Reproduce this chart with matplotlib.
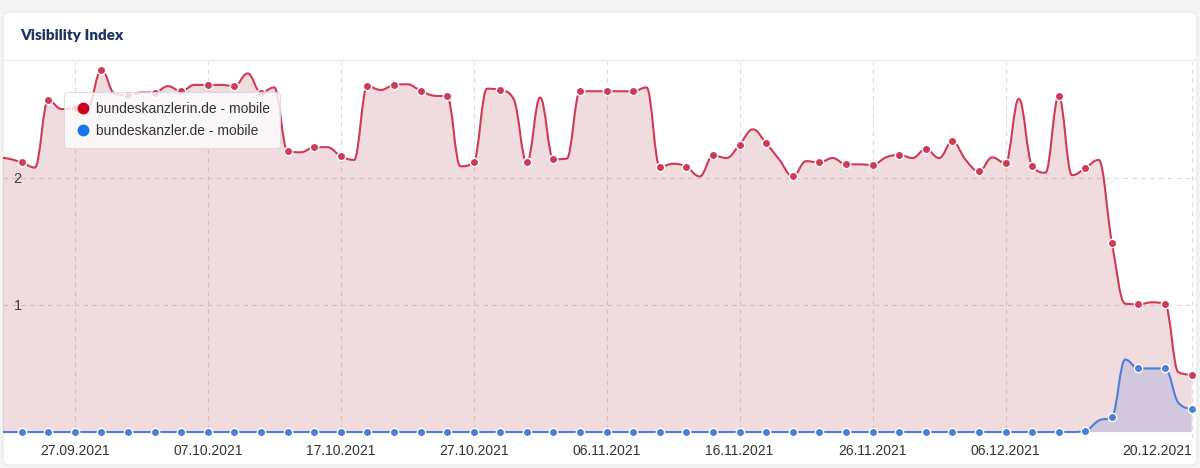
import numpy as np
import pandas as pd
import matplotlib
matplotlib.use("Agg")
from matplotlib import pyplot as plt
import matplotlib.dates as mdates
from matplotlib.path import Path
from matplotlib.patches import PathPatch, FancyBboxPatch
from matplotlib.lines import Line2D

plt.rcParams['font.family'] = ['Liberation Sans', 'DejaVu Sans']

# daily values, 21.09.2021 - 20.12.2021
start_date = "2021-09-21"
end_date = "2021-12-20"

kanzlerin = [
    2.16, 2.15, 2.12, 2.08, 2.61, 2.54, 2.55, 2.56, 2.85, 2.66,
    2.65, 2.67, 2.67, 2.72, 2.68, 2.73, 2.73, 2.73, 2.72, 2.82,
    2.67, 2.71, 2.21, 2.20, 2.24, 2.24, 2.17, 2.14, 2.72, 2.69,
    2.73, 2.735, 2.685, 2.645, 2.64, 2.09, 2.12, 2.70, 2.69, 2.62,
    2.12, 2.63, 2.145, 2.15, 2.68, 2.68, 2.68, 2.68, 2.68, 2.71,
    2.085, 2.11, 2.085, 2.01, 2.175, 2.155, 2.26, 2.38, 2.27, 2.14,
    2.01, 2.13, 2.12, 2.155, 2.105, 2.105, 2.10, 2.16, 2.18, 2.155,
    2.225, 2.155, 2.285, 2.14, 2.05, 2.16, 2.115, 2.62, 2.095, 2.04,
    2.64, 2.02, 2.075, 2.14, 1.49, 1.01, 1.005, 1.02, 1.005, 0.47,
    0.45,
]
kanzler = [0.0] * 82 + [0.01, 0.09, 0.12, 0.57, 0.50, 0.50, 0.50, 0.23, 0.18]

series_names = ["bundeskanzlerin.de - mobile", "bundeskanzler.de - mobile"]
tick_labels = ["27.09.2021", "07.10.2021", "17.10.2021", "27.10.2021", "06.11.2021",
               "16.11.2021", "26.11.2021", "06.12.2021", "20.12.2021"]
y_ticks = [1, 2]

RED = "#cf3b56"
BLUE = "#4d7fd8"


def spline_path(xs, ys, smoothing=1.5):
    # same idea as highcharts "spline" series
    n = len(xs)
    denom = smoothing + 1
    left = [(xs[i], ys[i]) for i in range(n)]
    right = [(xs[i], ys[i]) for i in range(n)]
    for i in range(1, n - 1):
        px, py = xs[i], ys[i]
        lx, ly = xs[i - 1], ys[i - 1]
        nx, ny = xs[i + 1], ys[i + 1]
        lcx = (smoothing * px + lx) / denom
        lcy = (smoothing * py + ly) / denom
        rcx = (smoothing * px + nx) / denom
        rcy = (smoothing * py + ny) / denom
        if rcx != lcx:
            corr = ((rcy - lcy) * (rcx - px)) / (rcx - lcx) + py - rcy
            lcy += corr
            rcy += corr
        if lcy > ly and lcy > py:
            lcy = max(ly, py)
            rcy = 2 * py - lcy
        elif lcy < ly and lcy < py:
            lcy = min(ly, py)
            rcy = 2 * py - lcy
        if rcy > ny and rcy > py:
            rcy = max(ny, py)
            lcy = 2 * py - rcy
        elif rcy < ny and rcy < py:
            rcy = min(ny, py)
            lcy = 2 * py - rcy
        left[i] = (lcx, lcy)
        right[i] = (rcx, rcy)
    verts = [(xs[0], ys[0])]
    codes = [Path.MOVETO]
    for i in range(1, n):
        verts += [right[i - 1], left[i], (xs[i], ys[i])]
        codes += [Path.CURVE4] * 3
    return verts, codes


def draw_series(ax, xs, ys, color, fill_color, fill_alpha, z):
    verts, codes = spline_path(xs, ys)
    line = Path(verts, codes)
    area = Path(verts + [(xs[-1], 0), (xs[0], 0), (xs[0], ys[0])],
                codes + [Path.LINETO, Path.LINETO, Path.CLOSEPOLY])
    ax.add_patch(PathPatch(area, facecolor=fill_color, alpha=fill_alpha, lw=0, zorder=z))
    ax.add_patch(PathPatch(line, facecolor="none", edgecolor=color, lw=1.5, zorder=z + 1))
    # markers every second day
    ax.plot(xs[::2], ys[::2], ls="none", marker="o", ms=6.0, mfc=color,
            mec="white", mew=1.0, zorder=z + 2)


dates = pd.date_range(start_date, end_date, freq="D")
xs = mdates.date2num(dates.to_pydatetime())

fig = plt.figure(figsize=(12, 4.68), dpi=100)
fig.patch.set_facecolor("#f4f4f4")

W, H = 1200, 468
card = FancyBboxPatch((3 / W, 3 / H), 1194 / W, 453 / H,
                      boxstyle="round,pad=0,rounding_size=0.008",
                      transform=fig.transFigure, facecolor="white",
                      edgecolor="#e6e6e6", lw=0.8, zorder=-5)
fig.patches.append(card)
fig.add_artist(Line2D([3 / W, 1197 / W], [1 - 60 / H, 1 - 60 / H],
                      transform=fig.transFigure, color="#ececec", lw=1, zorder=-4))
fig.text(20 / W, 1 - 36 / H, "Visibility Index", fontsize=11, fontweight="heavy",
         color="#1c3563", va="center", ha="left", family=["Lato", "DejaVu Sans"])

ax_top, ax_bot = 62, 438.4
ax = fig.add_axes([3 / W, 1 - ax_bot / H, 1194 / W, (ax_bot - ax_top) / H])
ax.set_facecolor("none")
for s in ax.spines.values():
    s.set_visible(False)

draw_series(ax, xs, kanzlerin, RED, "#b4505f", 0.2, 2)
draw_series(ax, xs, kanzler, BLUE, "#5a78da", 0.2, 5)

day0 = mdates.date2num(pd.Timestamp(start_date).to_pydatetime())
ax.set_xlim(day0 + 0.6, xs[-1] + 0.4)
ax.set_ylim(-0.05, 2.91)

tick_pos = mdates.date2num(pd.to_datetime(tick_labels, format="%d.%m.%Y").to_pydatetime())
ax.set_xticks(tick_pos)
ax.set_xticklabels(tick_labels, fontsize=10, color="#333333")
ax.get_xticklabels()[-1].set_horizontalalignment("right")
ax.tick_params(axis="x", length=0, pad=4)
ax.set_yticks(y_ticks)
ax.set_yticklabels([str(v) for v in y_ticks], fontsize=10.5, color="#333333")
ax.tick_params(axis="y", length=0, pad=-7.5)
for lab in ax.get_yticklabels():
    lab.set_horizontalalignment("left")
ax.grid(True, color="#d9d9d9", ls=(0, (4, 4)), lw=0.8)

handles = [Line2D([], [], ls="none", marker="o", ms=8.5, mfc="#d0021b", mec="none"),
           Line2D([], [], ls="none", marker="o", ms=8.5, mfc="#1a73e8", mec="none")]
leg = ax.legend(handles, series_names, loc="upper left",
                bbox_to_anchor=(0.051, 0.921), borderaxespad=0, fontsize=10,
                frameon=True, fancybox=True, framealpha=0.8, facecolor="white",
                edgecolor="#d8d8d8", handletextpad=0.35, borderpad=0.75,
                labelspacing=0.55, handlelength=1.2)
leg.get_frame().set_linewidth(0.8)
leg.set_zorder(20)
for t in leg.get_texts():
    t.set_color("#333333")

fig.savefig("out.png", dpi=100, facecolor=fig.get_facecolor())
